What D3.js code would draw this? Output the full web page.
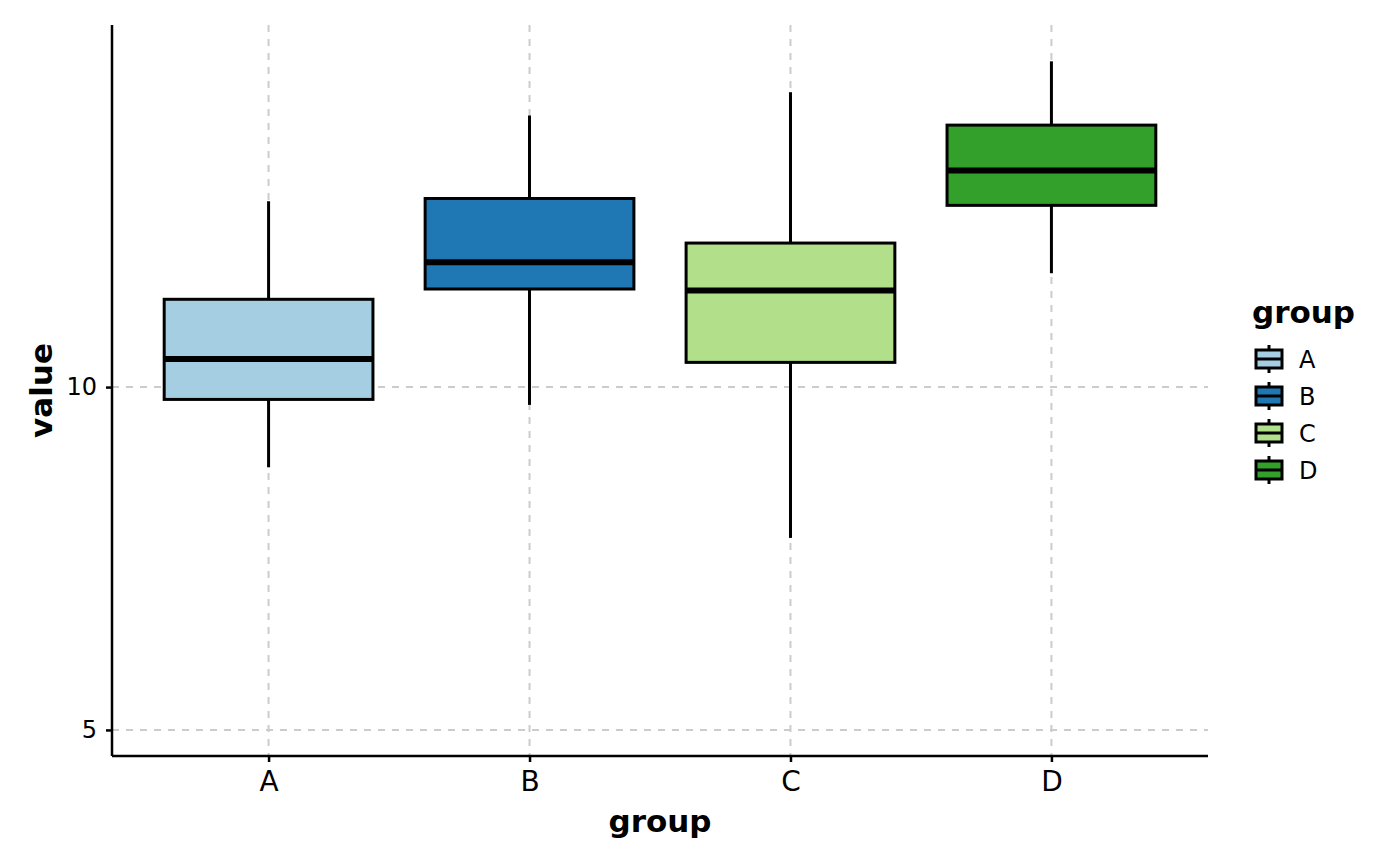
<!DOCTYPE html>
<html>
<head>
<meta charset="utf-8">
<script src="https://cdn.jsdelivr.net/npm/d3@7"></script>
<style>
  body { margin: 0; background: #fff; }
  text { font-family: 'DejaVu Sans', sans-serif; }
</style>
</head>
<body>
<div id="chart"></div>
<script>
'use strict';

// values
const groups = ['A', 'B', 'C', 'D'];
const colors = ['#a6cee3', '#1f78b4', '#b2df8a', '#33a02c'];
const lowerWhisker = [8.83, 9.74, 7.80, 11.66];
const q1 = [9.82, 11.43, 10.36, 12.65];
const medians = [10.41, 11.82, 11.41, 13.16];
const q3 = [11.28, 12.75, 12.10, 13.82];
const upperWhisker = [12.71, 13.96, 14.30, 14.75];
const yTicks = [5, 10];

const svgWidth = 1400, svgHeight = 866;
const padding = {top: 25, right: 192, bottom: 110, left: 112};
const width = svgWidth - padding.left - padding.right;
const height = svgHeight - padding.top - padding.bottom;

const svg = d3.select('#chart').append('svg')
  .attr('width', svgWidth)
  .attr('height', svgHeight);

const g = svg.append('g')
  .attr('transform', `translate(${padding.left}, ${padding.top})`);

const data = groups.map((grp, i) => ({
  group: grp, color: colors[i], lo: lowerWhisker[i], q1: q1[i],
  med: medians[i], q3: q3[i], hi: upperWhisker[i]
}));

// ggplot style discrete axis: 0.6 of a step on each side
const x = d3.scalePoint().domain(groups).range([0, width]).padding(0.6);
const step = x.step();
const boxW = step * 0.8;

const y = d3.scaleLinear().domain([4.62, 15.28]).range([height, 0]);

// grid
g.append('g').selectAll('line')
  .data(groups).enter().append('line')
    .attr('x1', d => x(d)).attr('x2', d => x(d))
    .attr('y1', 0).attr('y2', height)
    .attr('stroke', '#cccccc').attr('stroke-width', 2)
    .attr('stroke-dasharray', '7,7');

g.append('g').selectAll('line')
  .data(yTicks).enter().append('line')
    .attr('x1', 0).attr('x2', width)
    .attr('y1', d => y(d)).attr('y2', d => y(d))
    .attr('stroke', '#cccccc').attr('stroke-width', 2)
    .attr('stroke-dasharray', '7,7');

// boxes
const boxes = g.selectAll('g.box').data(data).enter().append('g').attr('class', 'box');

boxes.append('line')
  .attr('x1', d => x(d.group)).attr('x2', d => x(d.group))
  .attr('y1', d => y(d.hi)).attr('y2', d => y(d.q3))
  .attr('stroke', '#000').attr('stroke-width', 3);

boxes.append('line')
  .attr('x1', d => x(d.group)).attr('x2', d => x(d.group))
  .attr('y1', d => y(d.q1)).attr('y2', d => y(d.lo))
  .attr('stroke', '#000').attr('stroke-width', 3);

boxes.append('rect')
  .attr('x', d => x(d.group) - boxW / 2)
  .attr('width', boxW)
  .attr('y', d => y(d.q3))
  .attr('height', d => y(d.q1) - y(d.q3))
  .attr('fill', d => d.color)
  .attr('stroke', '#000').attr('stroke-width', 3);

boxes.append('line')
  .attr('x1', d => x(d.group) - boxW / 2).attr('x2', d => x(d.group) + boxW / 2)
  .attr('y1', d => y(d.med)).attr('y2', d => y(d.med))
  .attr('stroke', '#000').attr('stroke-width', 6);

// axes
const xAxis = g.append('g')
  .attr('transform', `translate(0, ${height})`)
  .call(d3.axisBottom(x).tickSize(6));
xAxis.select('.domain').attr('stroke-width', 2.5).attr('d', `M0,0H${width}`);
xAxis.selectAll('.tick line').attr('stroke-width', 2.5);
xAxis.selectAll('.tick text')
  .attr('font-size', 28).attr('fill', '#000')
  .attr('y', 35).attr('dy', 0);

const yAxis = g.append('g')
  .call(d3.axisLeft(y).tickValues(yTicks).tickSize(6).tickPadding(9));
yAxis.select('.domain').attr('stroke-width', 2.5).attr('d', `M0,${height}V0`);
yAxis.selectAll('.tick line').attr('stroke-width', 2.5);
yAxis.selectAll('.tick text').attr('font-size', 24).attr('fill', '#000');

g.append('text')
  .attr('x', width / 2).attr('y', height + 76)
  .attr('text-anchor', 'middle')
  .attr('font-size', 31).attr('font-weight', 'bold')
  .text('group');

g.append('text')
  .attr('transform', `translate(${52 - padding.left}, ${height / 2}) rotate(-90)`)
  .attr('text-anchor', 'middle')
  .attr('font-size', 31).attr('font-weight', 'bold')
  .text('value');

// legend
const legend = svg.append('g').attr('transform', 'translate(1252, 0)');
legend.append('text')
  .attr('x', 0).attr('y', 323)
  .attr('font-size', 31).attr('font-weight', 'bold')
  .text('group');

const keys = legend.selectAll('g.key').data(data).enter().append('g')
  .attr('transform', (d, i) => `translate(0, ${359 + i * 37})`);

keys.append('line')
  .attr('x1', 17).attr('x2', 17).attr('y1', -14).attr('y2', 14)
  .attr('stroke', '#000').attr('stroke-width', 3);
keys.append('rect')
  .attr('x', 4).attr('y', -9).attr('width', 26).attr('height', 18)
  .attr('fill', d => d.color)
  .attr('stroke', '#000').attr('stroke-width', 3);
keys.append('line')
  .attr('x1', 4).attr('x2', 30).attr('y1', 0).attr('y2', 0)
  .attr('stroke', '#000').attr('stroke-width', 3);
keys.append('text')
  .attr('x', 47).attr('y', 0).attr('dy', '0.36em')
  .attr('font-size', 24)
  .text(d => d.group);
</script>
</body>
</html>
